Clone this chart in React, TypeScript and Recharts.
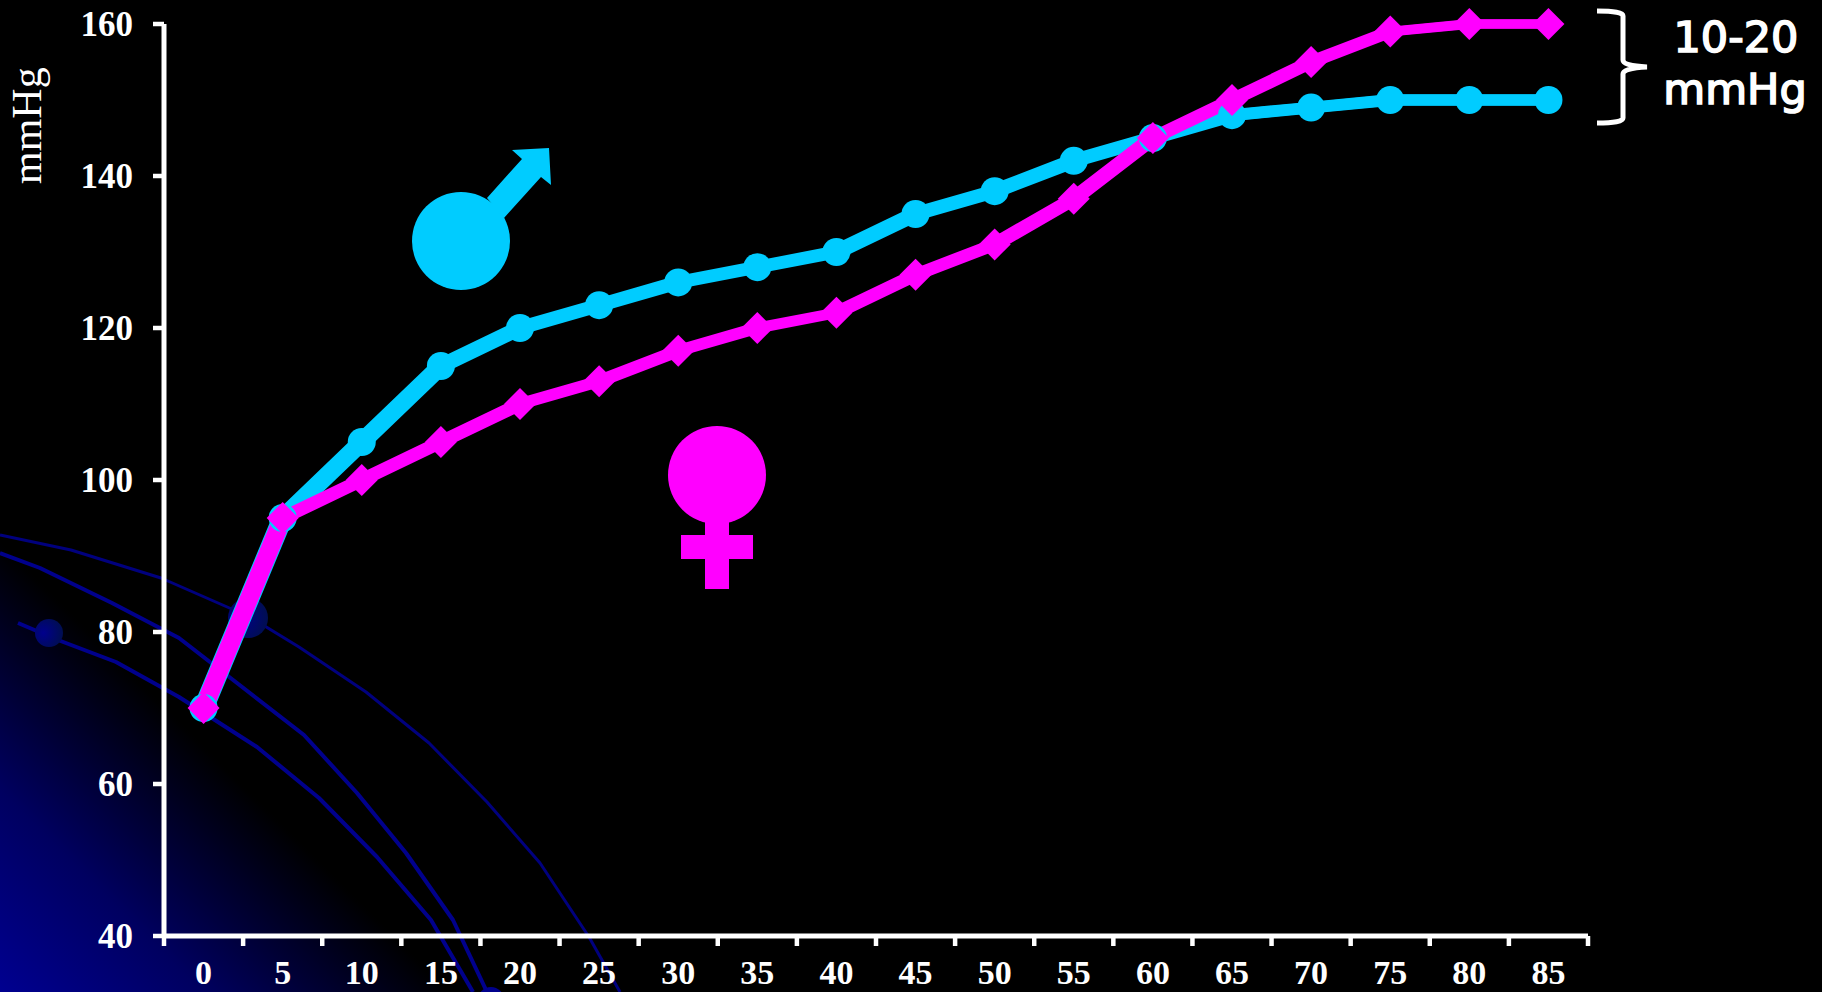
import React from "react";
import { LineChart, Line, XAxis, YAxis } from "recharts";

// Age groups along the horizontal axis
const ages = [0, 5, 10, 15, 20, 25, 30, 35, 40, 45, 50, 55, 60, 65, 70, 75, 80, 85];
// Systolic pressure by age, mmHg
const maleValues = [70, 95, 105, 115, 120, 123, 126, 128, 130, 135, 138, 142, 145, 148, 149, 150, 150, 150];
const femaleValues = [70, 95, 100, 105, 110, 113, 117, 120, 122, 127, 131, 137, 145, 150, 155, 159, 160, 160];
const pressureTicks = [40, 60, 80, 100, 120, 140, 160];
const halfStep = 2.5;

const rows = ages.map((age, i) => ({ age, male: maleValues[i], female: femaleValues[i] }));
// Tick marks sit between the age groups; labels are centred on the groups
const boundaryTicks = [...ages.map((a) => a - halfStep), ages[ages.length - 1] + halfStep];

const WHITE = "#ffffff";
const CYAN = "#00CCFF";
const MAGENTA = "#FF00FF";
const SERIF = "'Liberation Serif', serif";
const SANS = "'DejaVu Sans', sans-serif";
const SWIRL = "#00008c";

// Sideways offsets of the stroke copies: steep segments come out wider than flat ones
const penOffsets = [-5, 5];

function AgeTick(props: any) {
  const { x, y, payload, index } = props;
  if (index >= ages.length) return <g />;
  const bandWidth = 79.1;
  return (
    <text x={x + bandWidth / 2} y={y + 36} textAnchor="middle" fill={WHITE} fontFamily={SERIF} fontWeight="bold" fontSize={34}>
      {payload.value + halfStep}
    </text>
  );
}

function Diamond(props: any) {
  const { cx, cy, index } = props;
  const r = 16;
  return <polygon key={index} points={`${cx},${cy - r} ${cx + r},${cy} ${cx},${cy + r} ${cx - r},${cy}`} fill={MAGENTA} />;
}

function Round(props: any) {
  const { cx, cy, index } = props;
  return <circle key={index} cx={cx} cy={cy} r={14} fill={CYAN} />;
}

function Backdrop() {
  return (
    <svg width={1822} height={992} style={{ position: "absolute", left: 0, top: 0 }}>
      <defs>
        <linearGradient id="corner" gradientUnits="userSpaceOnUse" x1={0} y1={992} x2={225} y2={767}>
          <stop offset="0" stopColor="#000090" />
          <stop offset="0.45" stopColor="#000060" />
          <stop offset="1" stopColor="#000000" />
        </linearGradient>
        <radialGradient id="orb" cx="0.3" cy="0.5" r="0.8">
          <stop offset="0" stopColor="#00008c" />
          <stop offset="1" stopColor="#001048" />
        </radialGradient>
      </defs>
      <rect width={1822} height={992} fill="#000000" />
      <rect width={1822} height={992} fill="url(#corner)" />
      <g fill="none" stroke={SWIRL} strokeLinejoin="round">
        <path strokeWidth={3} opacity={0.9} d="M0 535 L71 550 L161 578 L250 617 L299 647 L366 692 L429 743 L487 802 L540 863 L589 937 L620 992" />
        <path strokeWidth={4} d="M0 553 L40 568 L112 603 L179 638 L237 683 L304 735 L357 793 L406 853 L453 920 L487 992" />
        <path strokeWidth={4} d="M18 623 L58 640 L116 662 L179 697 L257 747 L319 798 L377 857 L431 920 L473 992" />
      </g>
      <circle cx={49} cy={633} r={14} fill="url(#orb)" />
      <circle cx={248} cy={618} r={20} fill="url(#orb)" />
      <circle cx={491} cy={1000} r={13} fill={SWIRL} />
    </svg>
  );
}

function Annotations() {
  return (
    <svg width={1822} height={992} style={{ position: "absolute", left: 0, top: 0 }}>
      <text transform="translate(41 184) rotate(-90)" fill={WHITE} fontFamily={SERIF} fontSize={42}>
        mmHg
      </text>

      {/* male symbol */}
      <circle cx={461} cy={241} r={49} fill={CYAN} />
      <polygon points="487,198 522,159 512,150 549,148 551,185 541,177 504,218" fill={CYAN} />

      {/* female symbol */}
      <circle cx={717} cy={475} r={49} fill={MAGENTA} />
      <polygon points="705,515 729,515 729,535 753,535 753,559 729,559 729,589 705,589 705,559 681,559 681,535 705,535" fill={MAGENTA} />

      {/* brace around the end-of-line gap */}
      <path
        d="M1597 11 Q1623 11 1623 16 L1623 60 Q1623 66 1647 67 Q1623 68 1623 74 L1623 118 Q1623 123 1597 123"
        fill="none"
        stroke={WHITE}
        strokeWidth={5}
      />
      <g fill={WHITE} stroke={WHITE} strokeWidth={1.6} fontFamily={SANS} fontSize={43} textAnchor="middle">
        <text x={1736} y={52}>10-20</text>
        <text x={1735} y={104}>mmHg</text>
      </g>
    </svg>
  );
}

export default function App() {
  return (
    <div style={{ position: "fixed", left: 0, top: 0, width: 1822, height: 992, overflow: "hidden", background: "#000" }}>
      <Backdrop />
      <div style={{ position: "absolute", left: 0, top: 0 }}>
        <LineChart width={1822} height={992} data={rows} margin={{ top: 24, right: 234, bottom: 0, left: 0 }}>
          <XAxis
            dataKey="age"
            type="number"
            domain={[ages[0] - halfStep, ages[ages.length - 1] + halfStep]}
            ticks={boundaryTicks}
            interval={0}
            height={56}
            axisLine={{ stroke: WHITE, strokeWidth: 5 }}
            tickLine={{ stroke: WHITE, strokeWidth: 4.5 }}
            tickSize={10}
            tick={<AgeTick />}
          />
          <YAxis
            type="number"
            domain={[40, 160]}
            ticks={pressureTicks}
            interval={0}
            width={164}
            axisLine={{ stroke: WHITE, strokeWidth: 5 }}
            tickLine={{ stroke: WHITE, strokeWidth: 4.5 }}
            tickSize={11}
            tickMargin={20}
            tick={{ fill: WHITE, fontFamily: SERIF, fontWeight: "bold", fontSize: 35 }}
          />
          {penOffsets.map((dx) => (
            <Line
              key={`male${dx}`}
              dataKey="male"
              stroke={CYAN}
              strokeWidth={11}
              dot={false}
              activeDot={false}
              legendType="none"
              style={{ transform: `translateX(${dx}px)` }}
              isAnimationActive={false}
            />
          ))}
          <Line dataKey="male" stroke={CYAN} strokeWidth={11} dot={Round} activeDot={false} isAnimationActive={false} />
          {penOffsets.map((dx) => (
            <Line
              key={`female${dx}`}
              dataKey="female"
              stroke={MAGENTA}
              strokeWidth={9}
              dot={false}
              activeDot={false}
              legendType="none"
              style={{ transform: `translateX(${dx}px)` }}
              isAnimationActive={false}
            />
          ))}
          <Line dataKey="female" stroke={MAGENTA} strokeWidth={9} dot={Diamond} activeDot={false} isAnimationActive={false} />
        </LineChart>
      </div>
      <Annotations />
    </div>
  );
}
